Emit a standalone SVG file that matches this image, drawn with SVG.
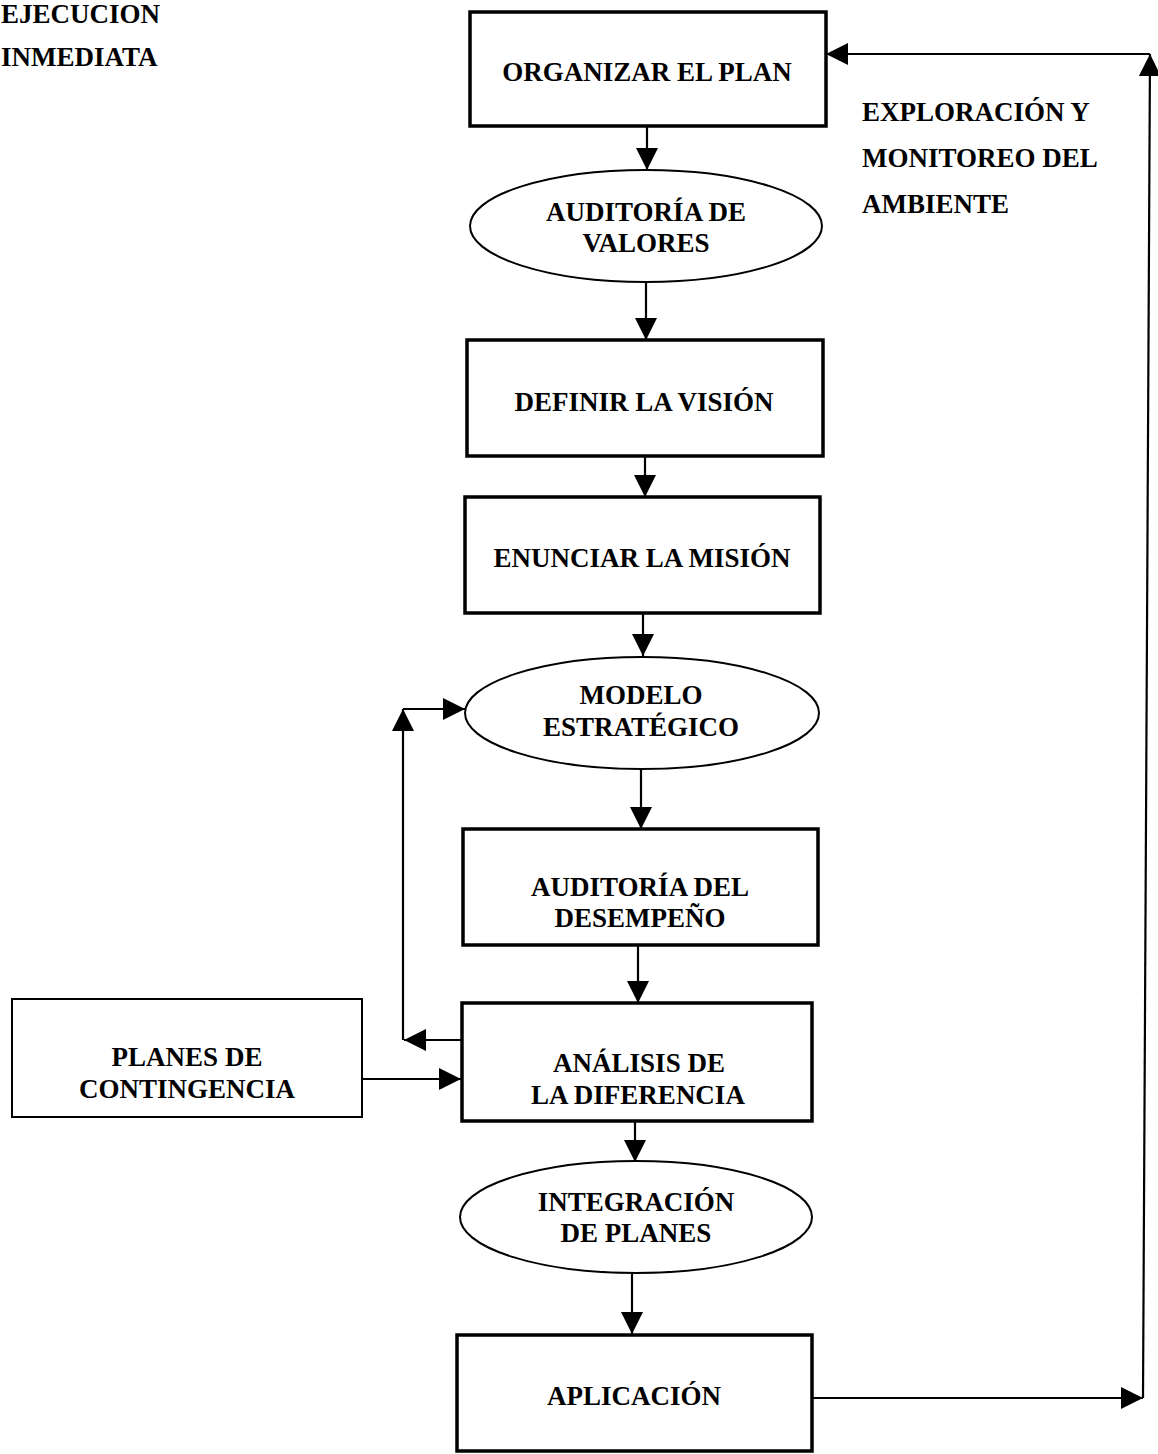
<svg xmlns="http://www.w3.org/2000/svg" width="1158" height="1454" viewBox="0 0 1158 1454">
  <style>
    .box { fill: #fff; stroke: #000; stroke-width: 3.5; }
    .box-thin { fill: #fff; stroke: #000; stroke-width: 2; }
    .oval { fill: #fff; stroke: #000; stroke-width: 2; }
    .wire { fill: none; stroke: #000; stroke-width: 2.2; }
    text { font-family: "Liberation Serif", "Times New Roman", serif; font-weight: bold; font-size: 27px; fill: #000; }
    .c { text-anchor: middle; }
  </style>
  <defs>
    <marker id="arrow" markerUnits="userSpaceOnUse" markerWidth="24" markerHeight="22" refX="22" refY="11" orient="auto">
      <path d="M0,0 L22,11 L0,22 Z" fill="#000"/>
    </marker>
  </defs>

  <rect width="1158" height="1454" fill="#fff"/>

  <!-- free labels -->
  <text x="1" y="23">EJECUCION</text>
  <text x="1" y="66">INMEDIATA</text>
  <text x="862" y="121">EXPLORACIÓN Y</text>
  <text x="862" y="167">MONITOREO DEL</text>
  <text x="862" y="213">AMBIENTE</text>

  <!-- connectors -->
  <g id="connectors">
    <line class="wire" x1="647" y1="127" x2="647" y2="170" marker-end="url(#arrow)"/>
    <line class="wire" x1="646" y1="282" x2="646" y2="340" marker-end="url(#arrow)"/>
    <line class="wire" x1="645" y1="456" x2="645" y2="497" marker-end="url(#arrow)"/>
    <line class="wire" x1="643" y1="613" x2="643" y2="656" marker-end="url(#arrow)"/>
    <line class="wire" x1="641" y1="769" x2="641" y2="829" marker-end="url(#arrow)"/>
    <line class="wire" x1="638" y1="945" x2="638" y2="1003" marker-end="url(#arrow)"/>
    <line class="wire" x1="635" y1="1121" x2="635" y2="1162" marker-end="url(#arrow)"/>
    <line class="wire" x1="632" y1="1273" x2="632" y2="1334" marker-end="url(#arrow)"/>

    <!-- feedback from the gap analysis back to the strategic model -->
    <line class="wire" x1="462" y1="1040" x2="404" y2="1040" marker-end="url(#arrow)"/>
    <line class="wire" x1="403" y1="1040" x2="403" y2="709" marker-end="url(#arrow)"/>
    <line class="wire" x1="403" y1="709" x2="465" y2="709" marker-end="url(#arrow)"/>

    <!-- contingency plans into the gap analysis -->
    <line class="wire" x1="362" y1="1079" x2="461" y2="1079" marker-end="url(#arrow)"/>

    <!-- environment scanning loop -->
    <line class="wire" x1="812" y1="1398" x2="1143" y2="1398" marker-end="url(#arrow)"/>
    <line class="wire" x1="1143" y1="1398" x2="1150" y2="54" marker-end="url(#arrow)"/>
    <line class="wire" x1="1150" y1="54" x2="826" y2="54" marker-end="url(#arrow)"/>
  </g>

  <!-- nodes -->
  <g id="organizar">
    <rect class="box" x="470" y="12" width="356" height="114"/>
    <text class="c" x="647" y="81">ORGANIZAR EL PLAN</text>
  </g>
  <g id="auditoria-valores">
    <ellipse class="oval" cx="646" cy="226" rx="176" ry="56"/>
    <text class="c" x="646" y="221">AUDITORÍA DE</text>
    <text class="c" x="646" y="252">VALORES</text>
  </g>
  <g id="definir">
    <rect class="box" x="467" y="340" width="356" height="116"/>
    <text class="c" x="644" y="411">DEFINIR LA VISIÓN</text>
  </g>
  <g id="enunciar">
    <rect class="box" x="465" y="497" width="355" height="116"/>
    <text class="c" x="642" y="567">ENUNCIAR LA MISIÓN</text>
  </g>
  <g id="modelo">
    <ellipse class="oval" cx="642" cy="713" rx="177" ry="56"/>
    <text class="c" x="641" y="704">MODELO</text>
    <text class="c" x="641" y="736">ESTRATÉGICO</text>
  </g>
  <g id="auditoria-desempeno">
    <rect class="box" x="463" y="829" width="355" height="116"/>
    <text class="c" x="640" y="896">AUDITORÍA DEL</text>
    <text class="c" x="640" y="927">DESEMPEÑO</text>
  </g>
  <g id="planes-contingencia">
    <rect class="box-thin" x="12" y="999" width="350" height="118"/>
    <text class="c" x="187" y="1066">PLANES DE</text>
    <text class="c" x="187" y="1098">CONTINGENCIA</text>
  </g>
  <g id="analisis">
    <rect class="box" x="462" y="1003" width="350" height="118"/>
    <text class="c" x="639" y="1072">ANÁLISIS DE</text>
    <text class="c" x="638" y="1104">LA DIFERENCIA</text>
  </g>
  <g id="integracion">
    <ellipse class="oval" cx="636" cy="1217" rx="176" ry="56"/>
    <text class="c" x="636" y="1211">INTEGRACIÓN</text>
    <text class="c" x="636" y="1242">DE PLANES</text>
  </g>
  <g id="aplicacion">
    <rect class="box" x="457" y="1335" width="355" height="116"/>
    <text class="c" x="634" y="1405">APLICACIÓN</text>
  </g>
</svg>
